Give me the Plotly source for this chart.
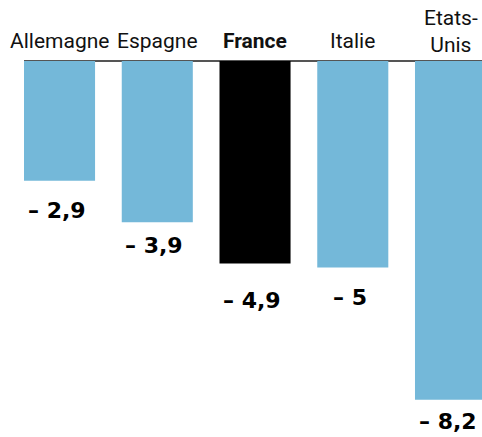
import plotly.graph_objects as go

categories = ["Allemagne", "Espagne", "France", "Italie", "Etats-Unis"]
tick_labels = ["Allemagne", "Espagne", "<b>France</b>", "Italie", "Etats-<br>Unis"]
values = [-2.9, -3.9, -4.9, -5.0, -8.2]
value_labels = ["– 2,9", "– 3,9", "– 4,9", "– 5", "– 8,2"]

# styling
colors = ["#74b8d9", "#74b8d9", "#000000", "#74b8d9", "#74b8d9"]
label_gap = [20, 14, 28, 20, 12]  # px gap under each bar end
cat_shift = [6, 6, 6, 6, 2]       # px above the baseline for category labels

fig = go.Figure()
fig.add_trace(go.Bar(x=categories, y=values, marker=dict(color=colors, line=dict(width=0)),
                     hoverinfo="skip"))

for c, t, s in zip(categories, tick_labels, cat_shift):
    fig.add_annotation(x=c, y=0, text=t, showarrow=False, yanchor="bottom", yshift=s,
                       font=dict(family="Roboto", size=21, color="#111"), align="center")

for c, v, t, g in zip(categories, values, value_labels, label_gap):
    fig.add_annotation(x=c, y=v, text="<b>" + t + "</b>", showarrow=False, yanchor="top",
                       yshift=-g + 5, xshift=-3,
                       font=dict(family="DejaVu Sans", size=22, color="#000"))

fig.update_layout(
    width=482, height=437,
    margin=dict(l=24, r=0, t=61, b=0),
    paper_bgcolor="white", plot_bgcolor="white",
    bargap=0.273, showlegend=False,
    xaxis=dict(range=[-0.3635, 4.322], showticklabels=False, showgrid=False,
               zeroline=False, showline=False, fixedrange=True),
    yaxis=dict(range=[-9.1, 0], showticklabels=False, showgrid=False,
               zeroline=True, zerolinecolor="#555", zerolinewidth=1.5,
               showline=False, fixedrange=True),
)
fig.write_html("out.html", config={"displayModeBar": False},
               post_script="document.body.style.margin='0';document.body.style.overflow='hidden';")
